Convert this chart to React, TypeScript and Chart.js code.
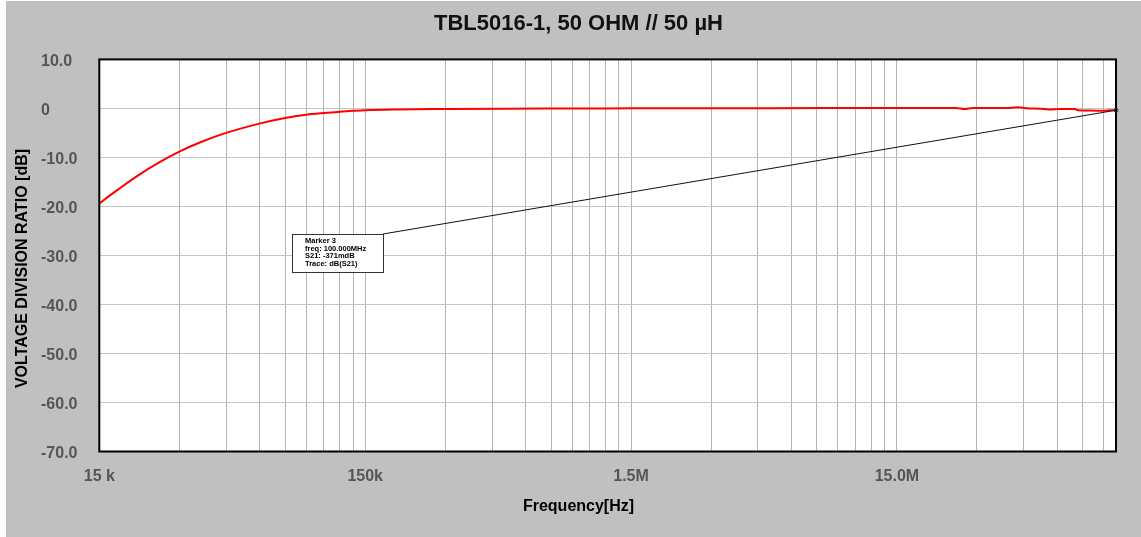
import React, { useEffect, useRef } from "react";
import { Chart, registerables } from "chart.js";

Chart.register(...registerables);

const FONT = "Arial, 'Liberation Sans', sans-serif";

const TITLE = "TBL5016-1, 50 OHM // 50 µH";
const X_TITLE = "Frequency[Hz]";
const Y_TITLE = "VOLTAGE DIVISION RATIO [dB]";

const frequencies = [
  15000, 16500, 18000, 21000, 25000, 30000, 36000, 45000, 60000, 75000, 90000,
  105000, 120000, 135000, 150000, 200000, 300000, 500000, 1000000, 1500000,
  5000000, 15000000, 25000000, 27000000, 29000000, 40000000, 43000000, 46000000,
  52000000, 56000000, 62000000, 70000000, 72000000, 80000000, 90000000, 95000000,
  100000000,
];
const s21dB = [
  -19.4, -17.7, -16.2, -13.65, -11.1, -8.8, -6.9, -5.0, -3.1, -1.95, -1.3,
  -0.95, -0.7, -0.5, -0.35, -0.2, -0.12, -0.05, -0.02, 0.02,
  0.05, 0.1, 0.1, -0.1, 0.1, 0.1, 0.25, 0.05,
  -0.05, -0.2, -0.1, -0.1, -0.4, -0.45, -0.5, -0.4,
  -0.371,
];

// Axes
const xMin = 15000;
const xMax = 100000000;
const xDecadeStarts = [15000, 150000, 1500000, 15000000];
const xMultipliers = [1, 2, 3, 4, 5, 6, 7, 8, 9];
const xLabelValues = [15000, 150000, 1500000, 15000000];
const xLabelTexts = ["15 k", "150k", "1.5M", "15.0M"];
const yMin = -70;
const yMax = 10;
const yStep = 10;
const yTickValues = [10, 0, -10, -20, -30, -40, -50, -60, -70];
const yTickTexts = ["10.0", "0", "-10.0", "-20.0", "-30.0", "-40.0", "-50.0", "-60.0", "-70.0"];

// Marker annotation
const markerLines = ["Marker 3", "freq: 100.000MHz", "S21: -371mdB", "Trace: dB(S21)"];
const markerFreq = 100000000;
const markerDb = -0.371;
const markerBoxFreq = 79400;
const markerBoxDb = -25.7;

const xGridValues: number[] = [];
xDecadeStarts.forEach((d) =>
  xMultipliers.forEach((m) => {
    const v = d * m;
    if (v <= xMax) xGridValues.push(v);
  })
);

const PAD_LEFT = 41;
const PAD_RIGHT = 25;

const decorPlugin = {
  id: "decor",
  beforeDraw(chart: any) {
    const { ctx, width, height, chartArea: a } = chart;
    ctx.save();
    ctx.fillStyle = "#ffffff";
    ctx.fillRect(0, 0, width, height);
    ctx.fillStyle = "#c0c0c0";
    ctx.fillRect(6, 1, width - 6, height - 1);
    ctx.fillStyle = "#ffffff";
    ctx.fillRect(a.left, a.top, a.right - a.left, a.bottom - a.top);
    ctx.restore();
  },
  afterDraw(chart: any) {
    const { ctx, chartArea: a, scales } = chart;
    const xs = scales.x;
    const ys = scales.y;
    ctx.save();
    // plot frame
    ctx.strokeStyle = "#000";
    ctx.lineWidth = 2;
    ctx.strokeRect(a.left, a.top, a.right - a.left, a.bottom - a.top);

    // marker
    const px = xs.getPixelForValue(markerFreq);
    const py = ys.getPixelForValue(markerDb);
    const bx = Math.round(xs.getPixelForValue(markerBoxFreq));
    const by = Math.round(ys.getPixelForValue(markerBoxDb));
    const bw = 91;
    const bh = 38;
    ctx.lineWidth = 1;
    ctx.strokeStyle = "#111";
    ctx.beginPath();
    ctx.moveTo(bx + bw, by);
    ctx.lineTo(px, py);
    ctx.stroke();
    ctx.fillStyle = "#fff";
    ctx.fillRect(bx, by, bw, bh);
    ctx.strokeStyle = "#333";
    ctx.strokeRect(bx + 0.5, by + 0.5, bw, bh);
    ctx.fillStyle = "#000";
    ctx.font = `bold 7.5px ${FONT}`;
    ctx.textAlign = "left";
    ctx.textBaseline = "middle";
    markerLines.forEach((t, i) => ctx.fillText(t, bx + 13, by + 6.8 + i * 7.8));
    ctx.strokeStyle = "#333";
    ctx.beginPath();
    ctx.arc(px, py, 2, 0, Math.PI * 2);
    ctx.stroke();

    // axis titles
    ctx.fillStyle = "#000";
    ctx.font = `bold 16px ${FONT}`;
    ctx.textAlign = "center";
    ctx.textBaseline = "middle";
    ctx.fillText(X_TITLE, (PAD_LEFT + a.right) / 2, a.bottom + 55);
    ctx.translate(27, chart.height / 2);
    ctx.rotate(-Math.PI / 2);
    ctx.textBaseline = "alphabetic";
    ctx.fillText(Y_TITLE, 0, 0);
    ctx.restore();
  },
};

export default function App() {
  const ref = useRef<HTMLCanvasElement | null>(null);
  useEffect(() => {
    if (!ref.current) return;
    Chart.defaults.font.family = FONT;
    const chart = new Chart(ref.current, {
      type: "line",
      data: {
        datasets: [
          {
            label: "dB(S21)",
            data: frequencies.map((f, i) => ({ x: f, y: s21dB[i] })),
            borderColor: "#ff0000",
            borderWidth: 2,
            pointRadius: 0,
            cubicInterpolationMode: "monotone",
            fill: false,
          },
        ],
      },
      options: {
        responsive: false,
        animation: false,
        devicePixelRatio: 1,
        layout: { padding: { left: PAD_LEFT, right: PAD_RIGHT, top: 0, bottom: 0 } },
        plugins: {
          legend: { display: false },
          tooltip: { enabled: false },
          title: {
            display: true,
            text: TITLE,
            color: "#111",
            font: { size: 22, weight: "bold", family: FONT },
            padding: { top: 11, bottom: 22 },
          },
        },
        scales: {
          x: {
            type: "logarithmic",
            min: xMin,
            max: xMax,
            afterBuildTicks: (scale: any) => {
              scale.ticks = xGridValues.map((v) => ({ value: v }));
            },
            afterFit: (scale: any) => {
              scale.height = 85.5;
            },
            grid: { color: "#b4b4b4", lineWidth: 1, drawTicks: false },
            border: { display: false },
            ticks: {
              autoSkip: false,
              maxRotation: 0,
              minRotation: 0,
              padding: 15,
              color: "#555",
              font: { size: 16, weight: "bold", family: FONT },
              callback: (v: any) => {
                const idx = xLabelValues.findIndex((lv) => Math.abs(lv - Number(v)) < 1e-3 * lv);
                return idx >= 0 ? xLabelTexts[idx] : "";
              },
            },
          },
          y: {
            type: "linear",
            min: yMin,
            max: yMax,
            afterFit: (scale: any) => {
              scale.width = 58.3;
            },
            grid: { color: "#c4c4c4", lineWidth: 1, drawTicks: false },
            border: { display: false },
            ticks: {
              stepSize: yStep,
              crossAlign: "far",
              padding: 0,
              labelOffset: 2.5,
              color: "#555",
              font: { size: 16, weight: "bold", family: FONT },
              callback: (v: any) => {
                const idx = yTickValues.indexOf(Number(v));
                return idx >= 0 ? yTickTexts[idx] : "";
              },
            },
          },
        },
      },
      plugins: [decorPlugin],
    } as any);
    return () => chart.destroy();
  }, []);
  return (
    <div style={{ position: "fixed", left: 0, top: 0, width: 1141, height: 537 }}>
      <canvas ref={ref} width={1141} height={537} style={{ display: "block" }} />
    </div>
  );
}
